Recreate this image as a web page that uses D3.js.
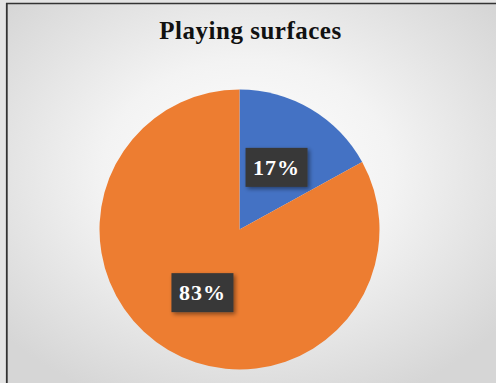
<!DOCTYPE html>
<html>
<head>
<meta charset="utf-8">
<script src="https://cdn.jsdelivr.net/npm/d3@7"></script>
<style>
  body { margin: 0; background: #e2e2e2; }
  svg { display: block; }
</style>
</head>
<body>
<div id="chart"></div>
<script>
var categories = ["Surface 1", "Surface 2"],
    values = [17, 83],
    colors = ["#4472C4", "#ED7D31"];

var width = 496, height = 383,
    cx = 239.5, cy = 229.5,
    radius = 140;

var svg = d3.select("#chart")
  .append("svg")
    .attr("width", width)
    .attr("height", height);

var defs = svg.append("defs");
var grad = defs.append("radialGradient")
    .attr("id", "bg")
    .attr("cx", "50%").attr("cy", "45%").attr("r", "65%");
grad.append("stop").attr("offset", "0%").attr("stop-color", "#ffffff");
grad.append("stop").attr("offset", "45%").attr("stop-color", "#f3f3f3");
grad.append("stop").attr("offset", "100%").attr("stop-color", "#d6d6d6");

var shadow = defs.append("filter").attr("id", "shadow")
    .attr("x", "-30%").attr("y", "-30%").attr("width", "160%").attr("height", "160%");
shadow.append("feDropShadow")
    .attr("dx", 2).attr("dy", 2).attr("stdDeviation", 2)
    .attr("flood-color", "#000").attr("flood-opacity", 0.45);

// chart area
svg.append("rect")
    .attr("x", 0).attr("y", 0)
    .attr("width", width).attr("height", height)
    .attr("fill", "url(#bg)");

// strips outside the frame
svg.append("rect")
    .attr("x", 0).attr("y", 0)
    .attr("width", 6).attr("height", height)
    .attr("fill", "#e4e4e4");
svg.append("rect")
    .attr("x", 0).attr("y", 0)
    .attr("width", width).attr("height", 3)
    .attr("fill", "#e4e4e4");

// frame lines (top and left)
svg.append("line")
    .attr("x1", 6).attr("x2", width).attr("y1", 3.5).attr("y2", 3.5)
    .attr("stroke", "#333").attr("stroke-width", 1.5);
svg.append("line")
    .attr("x1", 6.8).attr("x2", 6.8).attr("y1", 3).attr("y2", height)
    .attr("stroke", "#333").attr("stroke-width", 1.8);

svg.append("text")
    .attr("x", 250.5)
    .attr("y", 38.5)
    .attr("text-anchor", "middle")
    .style("font-family", "'Liberation Serif', 'Times New Roman', serif")
    .style("font-weight", "bold")
    .style("font-size", "25px")
    .style("letter-spacing", "0.5px")
    .attr("fill", "#111")
    .text("Playing surfaces");

var pie = d3.pie().sort(null).value(function(d) { return d; });
var arcs = pie(values);

var arc = d3.arc().innerRadius(0).outerRadius(radius);
var labelArc = d3.arc().innerRadius(radius * 0.52).outerRadius(radius * 0.52);

var g = svg.append("g")
    .attr("transform", "translate(" + cx + "," + cy + ")");

g.selectAll("path")
  .data(arcs)
  .enter()
  .append("path")
    .attr("d", arc)
    .attr("fill", function(d, i) { return colors[i]; });

var labels = g.selectAll("g.label")
  .data(arcs)
  .enter()
  .append("g")
    .attr("class", "label")
    .attr("transform", function(d) {
      var c = labelArc.centroid(d);
      return "translate(" + c[0] + "," + c[1] + ")";
    });

labels.append("rect")
    .attr("x", -31).attr("y", -19)
    .attr("width", 62).attr("height", 39)
    .attr("fill", "#383838")
    .attr("filter", "url(#shadow)");

labels.append("text")
    .attr("text-anchor", "middle")
    .attr("y", 8)
    .style("font-family", "'Liberation Serif', 'Times New Roman', serif")
    .style("font-weight", "bold")
    .style("font-size", "22px")
    .style("letter-spacing", "1px")
    .attr("fill", "#ffffff")
    .text(function(d) { return d.data + "%"; });
</script>
</body>
</html>
